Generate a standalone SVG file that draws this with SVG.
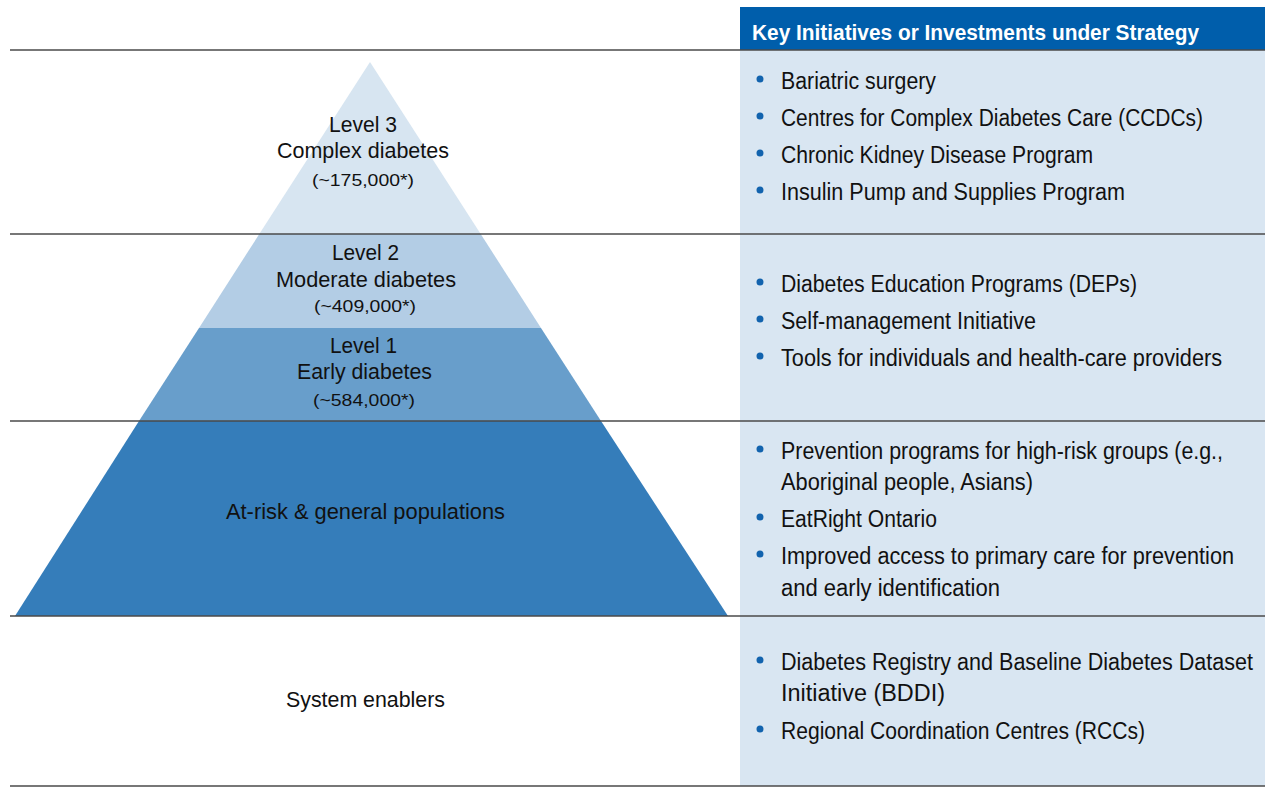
<svg xmlns="http://www.w3.org/2000/svg" width="1265" height="787" viewBox="0 0 1265 787">
  <style>
    .t { font-family: "Liberation Sans", Arial, sans-serif; font-size: 22px; fill: #111; }
    .l { font-size: 23px; }
    .c { text-anchor: middle; }
    .s { font-size: 17px; }
    .h { font-family: "Liberation Sans", Arial, sans-serif; font-size: 22px; font-weight: bold; fill: #fff; }
    .rule { stroke: #4a4a4a; stroke-width: 1.5; fill: none; }
    .dot { fill: #1263ae; }
  </style>

  <rect width="1265" height="787" fill="#fff"/>

  <!-- right-hand column -->
  <rect x="740" y="50" width="525" height="736" fill="#d9e6f2"/>
  <rect x="740" y="7" width="525" height="43" fill="#005eab"/>
  <text class="h" x="752" y="40" textLength="447" lengthAdjust="spacingAndGlyphs">Key Initiatives or Investments under Strategy</text>

  <!-- pyramid tiers -->
  <g id="level3">
    <polygon points="370,62 259.3,234 480.7,234" fill="#d7e5f1"/>
    <text class="t c" x="363" y="132" textLength="68" lengthAdjust="spacingAndGlyphs">Level 3</text>
    <text class="t c" x="363" y="158" textLength="172" lengthAdjust="spacingAndGlyphs">Complex diabetes</text>
    <text class="t c s" x="363" y="186" textLength="102" lengthAdjust="spacingAndGlyphs">(~175,000*)</text>
  </g>
  <g id="level2">
    <polygon points="259.3,234 480.7,234 541,328 199,328" fill="#b3cde5"/>
    <text class="t c" x="365.5" y="260" textLength="67" lengthAdjust="spacingAndGlyphs">Level 2</text>
    <text class="t c" x="366" y="287" textLength="180" lengthAdjust="spacingAndGlyphs">Moderate diabetes</text>
    <text class="t c s" x="365" y="312" textLength="102" lengthAdjust="spacingAndGlyphs">(~409,000*)</text>
  </g>
  <g id="level1">
    <polygon points="199,328 541,328 601,421 139,421" fill="#689ecb"/>
    <text class="t c" x="363.5" y="353" textLength="67" lengthAdjust="spacingAndGlyphs">Level 1</text>
    <text class="t c" x="364.5" y="379" textLength="135" lengthAdjust="spacingAndGlyphs">Early diabetes</text>
    <text class="t c s" x="364" y="406" textLength="102" lengthAdjust="spacingAndGlyphs">(~584,000*)</text>
  </g>
  <g id="at-risk">
    <polygon points="139,421 601,421 728,616 15,616" fill="#357dba"/>
    <text class="t c" x="365.5" y="519" textLength="279" lengthAdjust="spacingAndGlyphs">At-risk &amp; general populations</text>
  </g>
  <g id="enablers">
    <text class="t c" x="365.5" y="707" textLength="159" lengthAdjust="spacingAndGlyphs">System enablers</text>
  </g>

  <!-- row dividers -->
  <g id="connectors">
    <line class="rule" x1="10" y1="50" x2="1265" y2="50"/>
    <line class="rule" x1="10" y1="234" x2="1265" y2="234"/>
    <line class="rule" x1="10" y1="421" x2="1265" y2="421"/>
    <line class="rule" x1="10" y1="616" x2="1265" y2="616"/>
    <line class="rule" x1="10" y1="786" x2="1265" y2="786"/>
  </g>

  <!-- initiatives, level 3 -->
  <g id="list-level3">
    <circle class="dot" cx="760" cy="79" r="3.5"/>
    <text class="t l" x="781" y="89" textLength="155" lengthAdjust="spacingAndGlyphs">Bariatric surgery</text>
    <circle class="dot" cx="760" cy="116" r="3.5"/>
    <text class="t l" x="781" y="126" textLength="422" lengthAdjust="spacingAndGlyphs">Centres for Complex Diabetes Care (CCDCs)</text>
    <circle class="dot" cx="760" cy="153" r="3.5"/>
    <text class="t l" x="781" y="163" textLength="312" lengthAdjust="spacingAndGlyphs">Chronic Kidney Disease Program</text>
    <circle class="dot" cx="760" cy="190" r="3.5"/>
    <text class="t l" x="781" y="200" textLength="344" lengthAdjust="spacingAndGlyphs">Insulin Pump and Supplies Program</text>
  </g>

  <!-- initiatives, levels 1 and 2 -->
  <g id="list-level12">
    <circle class="dot" cx="760" cy="282" r="3.5"/>
    <text class="t l" x="781" y="292" textLength="356" lengthAdjust="spacingAndGlyphs">Diabetes Education Programs (DEPs)</text>
    <circle class="dot" cx="760" cy="319" r="3.5"/>
    <text class="t l" x="781" y="329" textLength="255" lengthAdjust="spacingAndGlyphs">Self-management Initiative</text>
    <circle class="dot" cx="760" cy="356" r="3.5"/>
    <text class="t l" x="781" y="366" textLength="441" lengthAdjust="spacingAndGlyphs">Tools for individuals and health-care providers</text>
  </g>

  <!-- initiatives, at-risk populations -->
  <g id="list-atrisk">
    <circle class="dot" cx="760" cy="449" r="3.5"/>
    <text class="t l" x="781" y="459" textLength="442" lengthAdjust="spacingAndGlyphs">Prevention programs for high-risk groups (e.g.,</text>
    <text class="t l" x="781" y="490" textLength="252" lengthAdjust="spacingAndGlyphs">Aboriginal people, Asians)</text>
    <circle class="dot" cx="760" cy="517" r="3.5"/>
    <text class="t l" x="781" y="527" textLength="156" lengthAdjust="spacingAndGlyphs">EatRight Ontario</text>
    <circle class="dot" cx="760" cy="554" r="3.5"/>
    <text class="t l" x="781" y="564" textLength="453" lengthAdjust="spacingAndGlyphs">Improved access to primary care for prevention</text>
    <text class="t l" x="781" y="596" textLength="219" lengthAdjust="spacingAndGlyphs">and early identification</text>
  </g>

  <!-- initiatives, system enablers -->
  <g id="list-enablers">
    <circle class="dot" cx="760" cy="660" r="3.5"/>
    <text class="t l" x="781" y="670" textLength="472" lengthAdjust="spacingAndGlyphs">Diabetes Registry and Baseline Diabetes Dataset</text>
    <text class="t l" x="781" y="701" textLength="164" lengthAdjust="spacingAndGlyphs">Initiative (BDDI)</text>
    <circle class="dot" cx="760" cy="729" r="3.5"/>
    <text class="t l" x="781" y="739" textLength="364" lengthAdjust="spacingAndGlyphs">Regional Coordination Centres (RCCs)</text>
  </g>
</svg>
